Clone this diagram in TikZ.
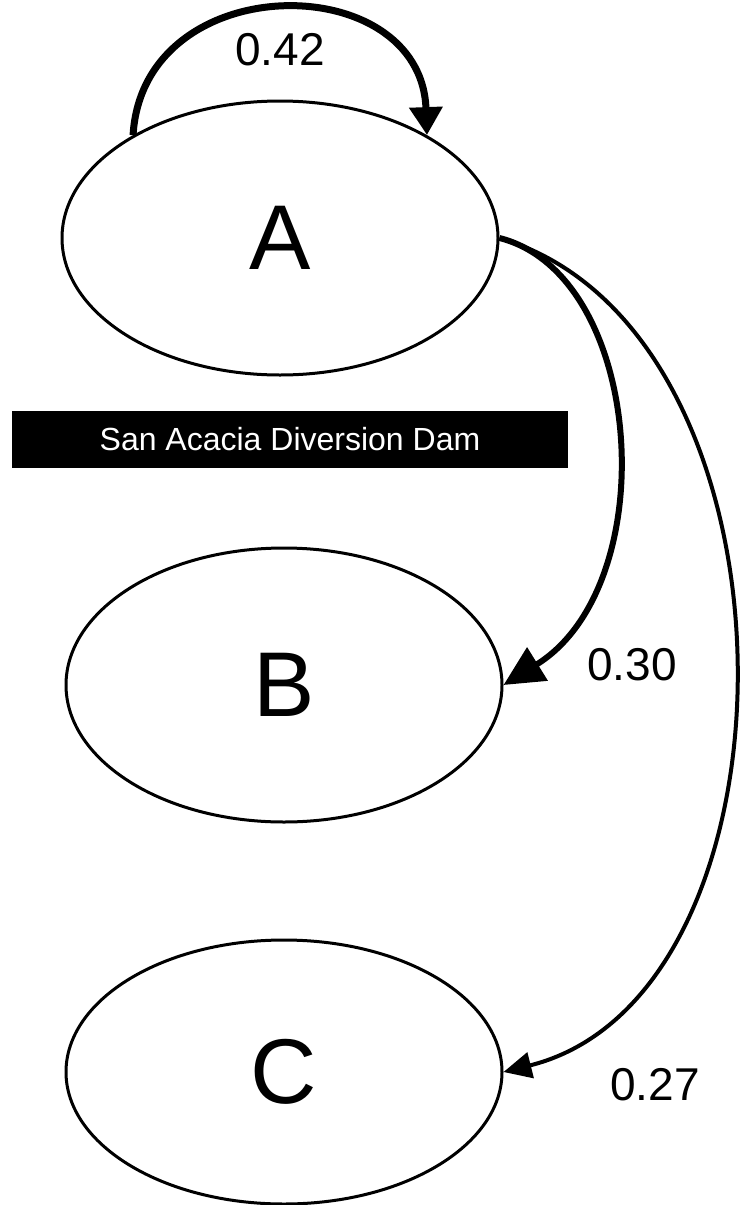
\documentclass[tikz,border=0pt]{standalone}
\usepackage{fontspec}
\setmainfont{Liberation Sans}
\usepackage{tikz}
\usetikzlibrary{arrows.meta,positioning,shapes.geometric}
\tikzset{
  reach/.style={ellipse, draw=black, line width=1.5pt, fill=white,
    minimum width=218pt, minimum height=137pt, inner sep=0pt,
    font=\fontsize{46}{46}\selectfont},
  dam/.style={fill=black, text=white, minimum width=278pt, minimum height=28.5pt,
    inner sep=0pt, font=\fontsize{16}{16}\selectfont},
  prob/.style={font=\fontsize{23}{23}\selectfont, inner sep=0pt},
  stay/.style={-{Triangle[length=14pt, width=16pt]}, line width=3.5pt},
  move/.style={-{Triangle[length=20pt, width=19pt]}, line width=3pt},
  pass/.style={-{Triangle[length=14pt, width=13pt]}, line width=2pt}
}

\begin{document}
\begin{tikzpicture}[x=0.5pt, y=-0.5pt]
        \useasboundingbox (0,0) rectangle (741,1205);
        \node[reach] (A) at (280,238) {A};
        \node[reach, below=85pt of A, xshift=2pt] (B) {B};
        \node[reach, minimum height=132pt, below=57.5pt of B] (C) {C};
        \node[dam] (diversion) at (290,439.5) {San Acacia Diversion Dam};
        % transition probabilities
        \draw[stay] (A.145) .. controls +(10,-168) and +(-6,-168) .. (A.35);
        \draw[move] (A.east) .. controls (645,275) and (665,585) .. (B.east);
        \draw[pass] (A.east) .. controls (812,330) and (812,995) .. (C.east);
        \node[prob] (pAA) at (280,50) {0.42};
        \node[prob] (pAB) at (632,665) {0.30};
        \node[prob] (pAC) at (655,1085) {0.27};
    \end{tikzpicture}
\end{document}
